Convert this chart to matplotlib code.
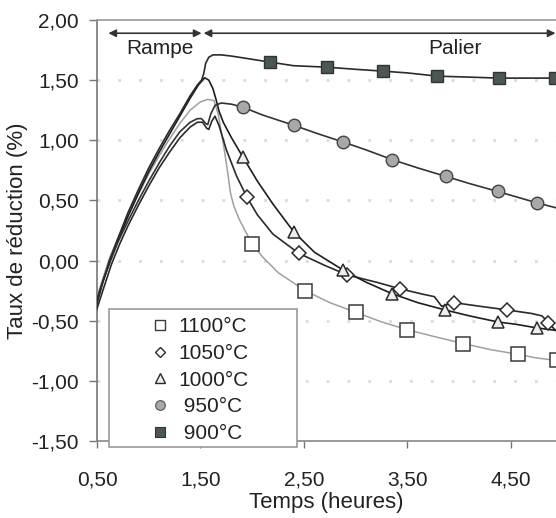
import numpy as np
import matplotlib
matplotlib.use('Agg')
import matplotlib.pyplot as plt
from matplotlib.patches import Rectangle
from matplotlib.lines import Line2D

plt.rcParams['font.family'] = ['Liberation Sans', 'DejaVu Sans']

# curves (time in hours, reduction in %)
t_900 = [0.46, 0.5, 0.56, 0.62, 0.7, 0.8, 0.9, 1.0, 1.1, 1.2, 1.3, 1.4, 1.47, 1.51, 1.53, 1.55, 1.58, 1.62,
         1.7, 1.8, 1.95, 2.17, 2.4, 2.72, 3.0, 3.26, 3.5, 3.79, 4.1, 4.38, 4.65, 4.93]
v_900 = [-0.48, -0.36, -0.17, 0.0, 0.18, 0.4, 0.59, 0.77, 0.93, 1.08, 1.22, 1.37, 1.46, 1.50, 1.55, 1.64, 1.69, 1.71,
         1.71, 1.70, 1.68, 1.65, 1.62, 1.608, 1.59, 1.575, 1.56, 1.533, 1.525, 1.517, 1.517, 1.517]

t_950 = [0.46, 0.5, 0.56, 0.63, 0.7, 0.8, 0.9, 1.0, 1.1, 1.2, 1.3, 1.4, 1.47, 1.51, 1.55, 1.57, 1.6, 1.64, 1.7,
         1.8, 1.91, 2.1, 2.4, 2.65, 2.88, 3.1, 3.35, 3.6, 3.87, 4.1, 4.37, 4.55, 4.75, 4.93]
v_950 = [-0.42, -0.32, -0.17, 0.0, 0.15, 0.33, 0.5, 0.66, 0.81, 0.95, 1.07, 1.15, 1.18, 1.18, 1.14, 1.13, 1.22, 1.29, 1.31,
         1.30, 1.275, 1.21, 1.125, 1.05, 0.985, 0.92, 0.84, 0.77, 0.70, 0.64, 0.575, 0.53, 0.48, 0.44]

t_1000 = [0.46, 0.5, 0.56, 0.63, 0.7, 0.8, 0.9, 1.0, 1.1, 1.2, 1.3, 1.4, 1.48, 1.54, 1.58, 1.62, 1.65, 1.68, 1.72,
          1.8, 1.91, 2.05, 2.2, 2.4, 2.6, 2.88, 3.1, 3.35, 3.6, 3.86, 4.1, 4.37, 4.55, 4.75, 4.93]
v_1000 = [-0.45, -0.33, -0.16, 0.0, 0.16, 0.37, 0.56, 0.74, 0.9, 1.05, 1.2, 1.35, 1.46, 1.52, 1.50, 1.43, 1.34, 1.24, 1.15,
          1.02, 0.86, 0.66, 0.47, 0.24, 0.07, -0.08, -0.18, -0.275, -0.35, -0.41, -0.46, -0.51, -0.53, -0.56, -0.58]

t_1050 = [0.46, 0.5, 0.56, 0.64, 0.72, 0.8, 0.9, 1.0, 1.1, 1.2, 1.3, 1.4, 1.47, 1.52, 1.56, 1.58, 1.61, 1.64, 1.68,
          1.75, 1.85, 1.95, 2.05, 2.2, 2.45, 2.7, 2.92, 3.2, 3.43, 3.65, 3.76, 3.83, 3.95, 4.2, 4.46, 4.7, 4.8, 4.86, 4.93]
v_1050 = [-0.5, -0.4, -0.24, -0.03, 0.14, 0.29, 0.46, 0.62, 0.77, 0.9, 1.02, 1.11, 1.15, 1.15, 1.10, 1.09, 1.16, 1.20, 1.12,
          0.92, 0.70, 0.525, 0.38, 0.22, 0.06, -0.04, -0.12, -0.18, -0.235, -0.28, -0.30, -0.38, -0.35, -0.38, -0.41, -0.44, -0.46, -0.515, -0.58]

t_1100 = [0.46, 0.5, 0.56, 0.62, 0.7, 0.8, 0.9, 1.0, 1.1, 1.2, 1.3, 1.4, 1.5, 1.57, 1.63, 1.67, 1.72, 1.76, 1.79,
          1.82, 1.87, 1.93, 2.0, 2.1, 2.25, 2.51, 2.75, 3.0, 3.25, 3.5, 3.75, 4.04, 4.3, 4.57, 4.75, 4.94]
v_1100 = [-0.4, -0.3, -0.14, 0.02, 0.18, 0.37, 0.55, 0.72, 0.87, 1.01, 1.14, 1.25, 1.32, 1.34, 1.33, 1.22, 0.975, 0.75, 0.56,
          0.46, 0.35, 0.25, 0.14, 0.03, -0.1, -0.25, -0.35, -0.43, -0.51, -0.575, -0.63, -0.69, -0.74, -0.78, -0.81, -0.83]

# marker positions
mt_900 = [2.17, 2.72, 3.26, 3.79, 4.38, 4.93]
mv_900 = [1.65, 1.608, 1.575, 1.533, 1.517, 1.517]
mt_950 = [1.91, 2.40, 2.88, 3.35, 3.87, 4.37, 4.75]
mv_950 = [1.275, 1.125, 0.985, 0.84, 0.70, 0.575, 0.48]
mt_1000 = [1.91, 2.40, 2.88, 3.35, 3.86, 4.37, 4.75]
mv_1000 = [0.86, 0.24, -0.08, -0.275, -0.41, -0.51, -0.56]
mt_1050 = [1.95, 2.45, 2.92, 3.43, 3.95, 4.46, 4.86]
mv_1050 = [0.525, 0.06, -0.12, -0.235, -0.35, -0.41, -0.515]
mt_1100 = [2.0, 2.51, 3.0, 3.5, 4.04, 4.57, 4.94]
mv_1100 = [0.14, -0.25, -0.43, -0.575, -0.69, -0.78, -0.83]

labels = ['1100°C', '1050°C', '1000°C', ' 950°C', ' 900°C']

fig = plt.figure(figsize=(5.56, 5.18), dpi=100)
ax = fig.add_axes([97/556, 1 - 441/518, 1 - 97/556, (441 - 20)/518])

# dotted grid
for g in [-1.0, -0.5, 0.0, 0.5, 1.0, 1.5]:
    ax.axhline(g, color='#dadada', lw=2, linestyle=(0, (1, 6.5)), zorder=0)

ax.plot(t_1100, v_1100, color='#a0a0a0', lw=1.1, zorder=2)
ax.plot(t_1050, v_1050, color='#2a2a2a', lw=1.2, zorder=3)
ax.plot(t_1000, v_1000, color='#1e1e1e', lw=1.2, zorder=3)
ax.plot(t_950, v_950, color='#333333', lw=1.2, zorder=3)
ax.plot(t_900, v_900, color='#2a2a2a', lw=1.2, zorder=3)

ax.plot(mt_1100, mv_1100, 's', ms=9.5, mfc='white', mec='#3a3a3a', mew=1.1, ls='none', zorder=4)
ax.plot(mt_1050, mv_1050, 'D', ms=7, mfc='white', mec='#2a2a2a', mew=1.1, ls='none', zorder=4)
ax.plot(mt_1000, mv_1000, '^', ms=9, mfc='#eeeeee', mec='#2a2a2a', mew=1.1, ls='none', zorder=4)
ax.plot(mt_950, mv_950, 'o', ms=9, mfc='#a8a8a8', mec='#444444', mew=1.0, ls='none', zorder=4)
ax.plot(mt_900, mv_900, 's', ms=9, mfc='#4b5753', mec='#2e3532', mew=1.0, ls='none', zorder=4)

ax.set_xlim(0.5, 4.935)
ax.set_ylim(-1.5, 2.0)
xt = [0.5, 1.5, 2.5, 3.5, 4.5]
yt = [-1.5, -1.0, -0.5, 0.0, 0.5, 1.0, 1.5, 2.0]
ax.set_xticks(xt)
ax.set_xticklabels([f'{v:.2f}'.replace('.', ',') for v in xt])
ax.set_yticks(yt)
ax.set_yticklabels([f'{v:.2f}'.replace('.', ',') for v in yt])
ax.tick_params(axis='y', direction='out', length=6, width=1, pad=7, labelsize=15, color='#777777', labelcolor='#222222')
ax.tick_params(axis='x', direction='out', length=5, width=1, pad=16, labelsize=15, color='#777777', labelcolor='#222222')

ax.spines['right'].set_visible(False)
ax.spines['left'].set_color('#777777')
ax.spines['bottom'].set_color('#888888')
ax.spines['top'].set_color('#9a9a9a')
for s in ['left', 'bottom', 'top']:
    ax.spines[s].set_linewidth(1.2)

ax.set_xlabel('Temps (heures)', fontsize=16, color='#222222', labelpad=2)
ax.set_ylabel('Taux de réduction (%)', fontsize=16, color='#222222')
ax.yaxis.set_label_coords(-0.150, 0.5)

# Rampe / Palier arrows
arr = dict(arrowstyle='<|-|>', color='#333333', lw=1.2, mutation_scale=11, shrinkA=0, shrinkB=0)
ax.annotate('', xy=(1.51, 1.89), xytext=(0.61, 1.89), arrowprops=arr, annotation_clip=False)
ax.annotate('', xy=(4.93, 1.89), xytext=(1.53, 1.89), arrowprops=arr, annotation_clip=False)
ax.text(1.11, 1.76, 'Rampe', fontsize=15, ha='center', va='center', color='#222222')
ax.text(3.96, 1.76, 'Palier', fontsize=15, ha='center', va='center', color='#222222')

# legend box
x0 = (109 - 97) / 459
y0 = (441 - 447) / 421
w = (297 - 109) / 459
h = (447 - 309) / 421
ax.add_patch(Rectangle((x0, y0), w, h, transform=ax.transAxes, facecolor='white',
                       edgecolor='#9a9a9a', lw=1.2, clip_on=False, zorder=6))
handles = [
    Line2D([], [], marker='s', ms=7.5, mfc='white', mec='#3a3a3a', mew=1.0, ls='none'),
    Line2D([], [], marker='D', ms=5.5, mfc='white', mec='#2a2a2a', mew=1.0, ls='none'),
    Line2D([], [], marker='^', ms=7, mfc='#eeeeee', mec='#2a2a2a', mew=1.0, ls='none'),
    Line2D([], [], marker='o', ms=7, mfc='#a8a8a8', mec='#555555', mew=0.8, ls='none'),
    Line2D([], [], marker='s', ms=7, mfc='#4b5753', mec='#2e3532', mew=0.8, ls='none'),
]
leg = ax.legend(handles, labels, loc='upper left', bbox_to_anchor=((152 - 97) / 459, (441 - 317) / 421),
                frameon=False, fontsize=15, handlelength=0.8, handletextpad=0.45,
                labelspacing=0.375, borderpad=0, borderaxespad=0)
leg.set_zorder(7)
for txt in leg.get_texts():
    txt.set_color('#222222')

fig.savefig('out.png', dpi=100)
